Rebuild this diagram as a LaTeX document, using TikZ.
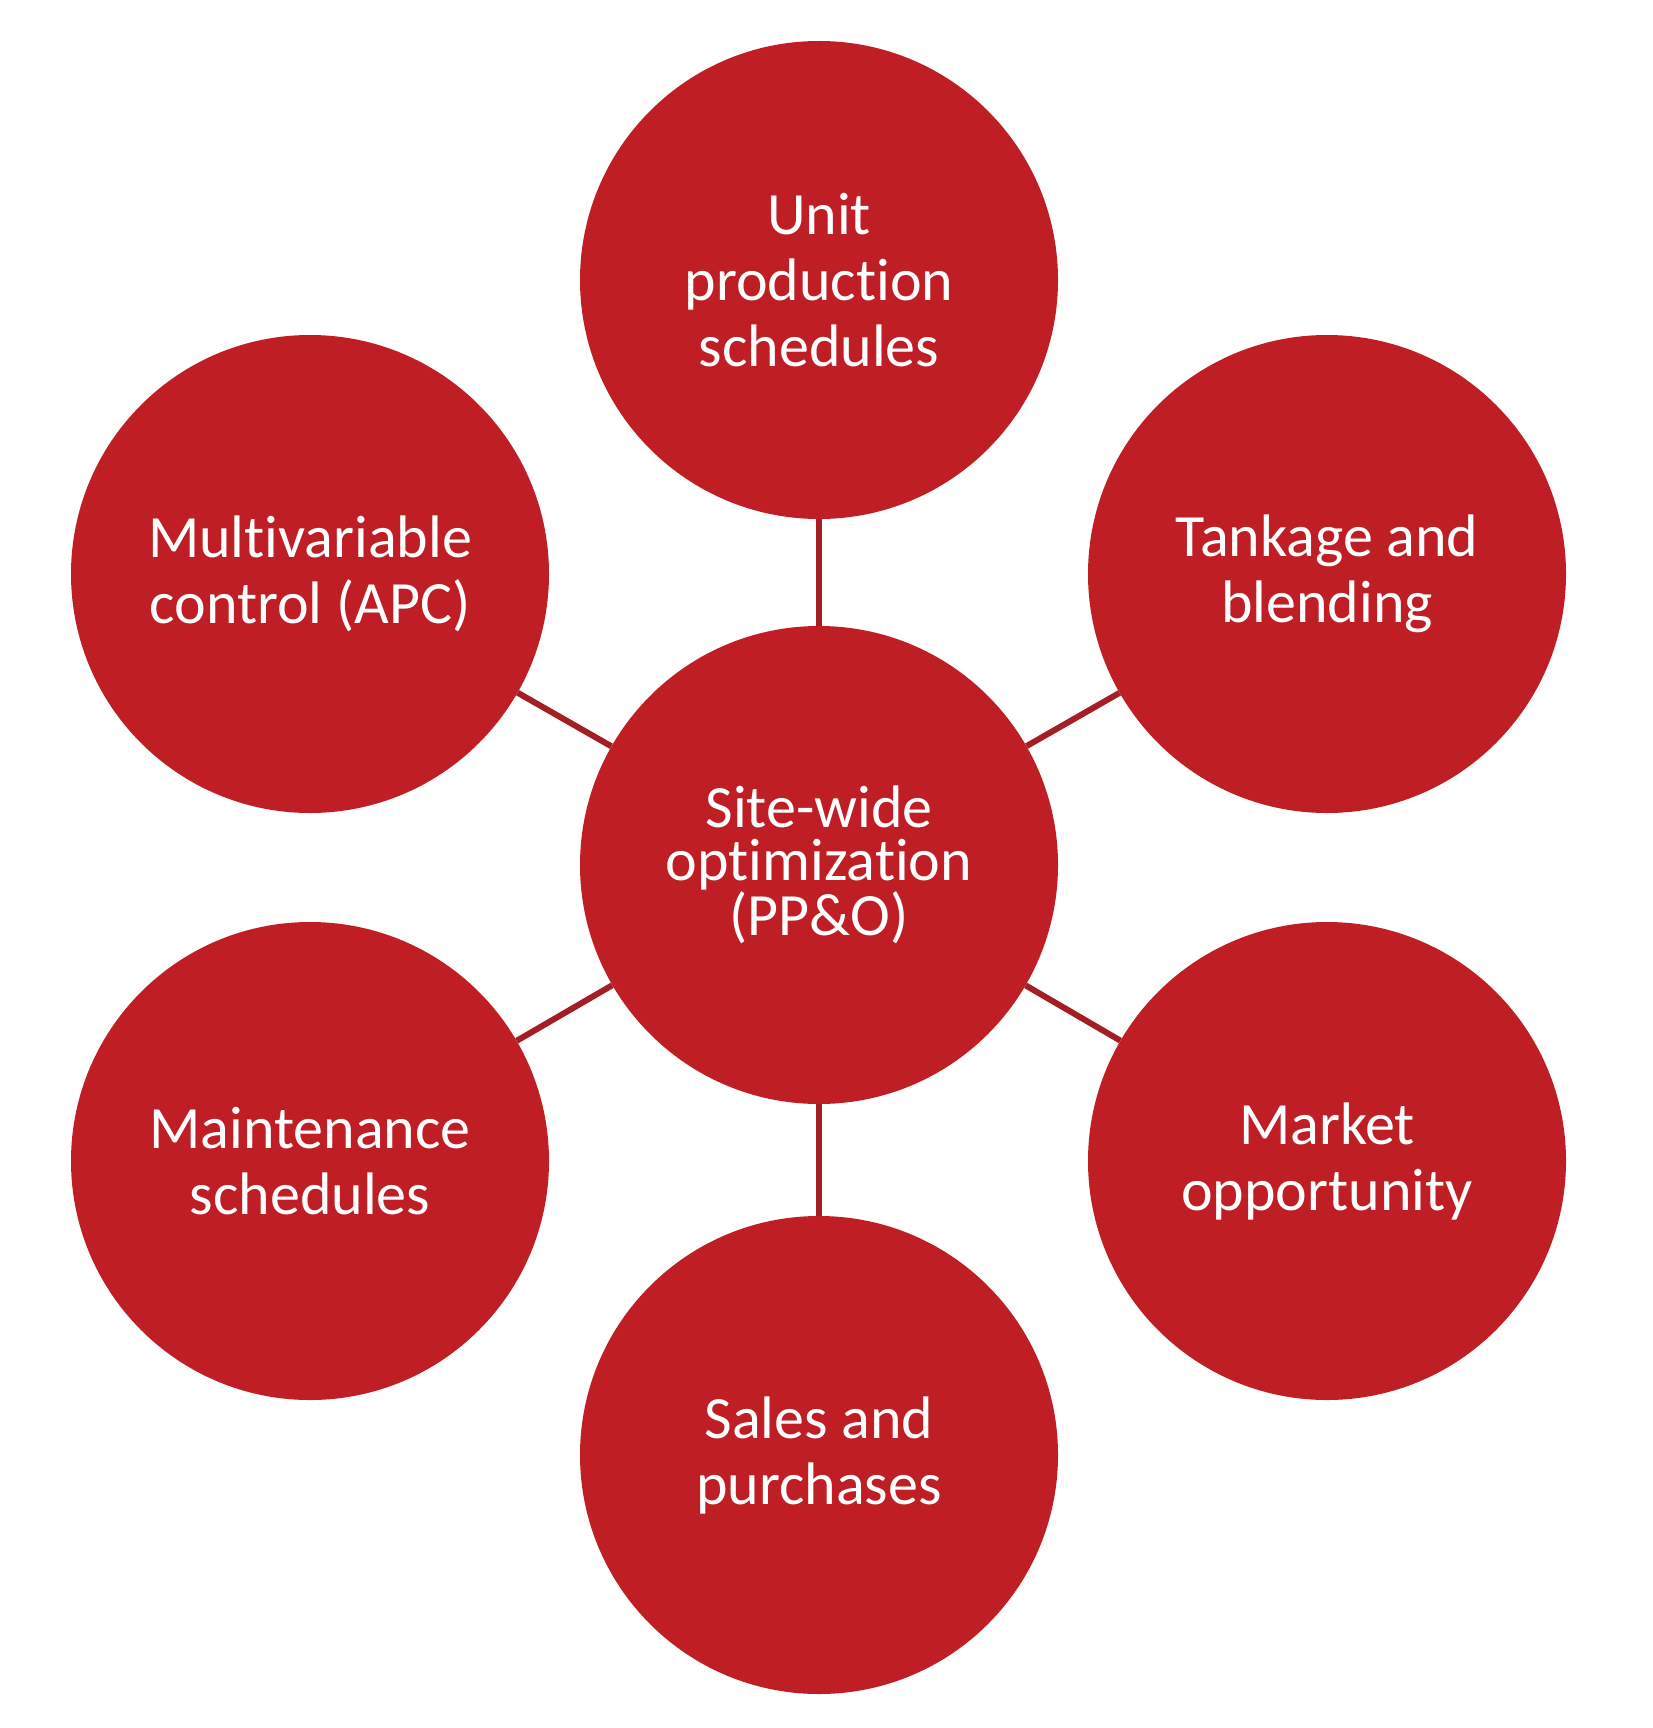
\documentclass[tikz,border=0pt]{standalone}
\usepackage{fontspec}
\setmainfont{Carlito}[Ligatures=NoCommon]
\definecolor{circred}{HTML}{BE1E24}
\definecolor{linkred}{HTML}{A41E26}
\begin{document}
\begin{tikzpicture}[x=1pt,y=-1pt,
  bubble/.style={circle,fill=circred,draw=none,minimum size=478pt,inner sep=0pt,
    text=white,align=center,font=\fontsize{60}{66}\selectfont},
  link/.style={draw=linkred,line width=6pt}]
\useasboundingbox (0,0) rectangle (1653,1728);
\node[bubble,font=\fontsize{60}{53}\selectfont] (c) at (819,865) {Site-wide\\optimization\\(PP\&O)};
\node[bubble] (t) at (819,280) {Unit\\production\\schedules};
\node[bubble] (ul) at (310,574) {Multivariable\\control (APC)};
\node[bubble] (ur) at (1327,574) {Tankage and\\blending};
\node[bubble] (ll) at (310,1161) {Maintenance\\schedules};
\node[bubble] (lr) at (1327,1161) {Market\\opportunity};
\node[bubble] (b) at (819,1455) {Sales and\\purchases};
\draw[link] (c) -- (t);
\draw[link] (c) -- (ul);
\draw[link] (c) -- (ur);
\draw[link] (c) -- (ll);
\draw[link] (c) -- (lr);
\draw[link] (c) -- (b);
\end{tikzpicture}
\end{document}
